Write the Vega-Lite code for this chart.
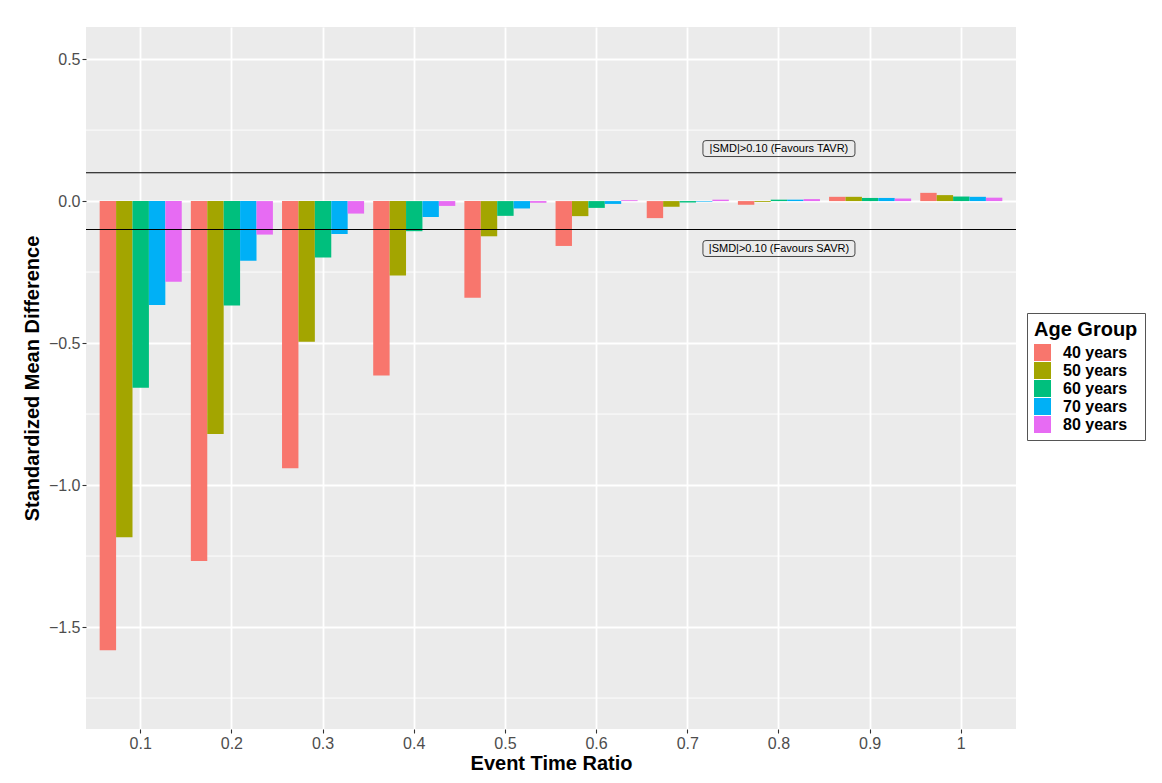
{
  "$schema": "https://vega.github.io/schema/vega-lite/v6.json",
  "width": 930,
  "height": 702,
  "autosize": {"type": "none"},
  "padding": {"left": 86, "top": 27, "right": 146, "bottom": 54},
  "background": "white",
  "config": {
    "font": "Liberation Sans",
    "view": {"fill": "#EBEBEB", "stroke": null},
    "axis": {
      "domain": false,
      "gridColor": "white",
      "gridWidth": 1.8,
      "tickColor": "#333333",
      "tickSize": 4,
      "tickWidth": 1.1,
      "labelFont": "Liberation Sans",
      "labelFontSize": 16,
      "labelColor": "#4D4D4D",
      "labelPadding": 2,
      "titleFont": "Liberation Sans",
      "titleFontSize": 20,
      "titleFontWeight": "bold",
      "titleColor": "black"
    }
  },
  "datasets": {
    "smd": [
      {"ratio": "0.1", "group": "40 years", "smd": -1.582},
      {"ratio": "0.1", "group": "50 years", "smd": -1.184},
      {"ratio": "0.1", "group": "60 years", "smd": -0.657},
      {"ratio": "0.1", "group": "70 years", "smd": -0.366},
      {"ratio": "0.1", "group": "80 years", "smd": -0.284},
      {"ratio": "0.2", "group": "40 years", "smd": -1.267},
      {"ratio": "0.2", "group": "50 years", "smd": -0.820},
      {"ratio": "0.2", "group": "60 years", "smd": -0.368},
      {"ratio": "0.2", "group": "70 years", "smd": -0.210},
      {"ratio": "0.2", "group": "80 years", "smd": -0.118},
      {"ratio": "0.3", "group": "40 years", "smd": -0.941},
      {"ratio": "0.3", "group": "50 years", "smd": -0.495},
      {"ratio": "0.3", "group": "60 years", "smd": -0.199},
      {"ratio": "0.3", "group": "70 years", "smd": -0.116},
      {"ratio": "0.3", "group": "80 years", "smd": -0.044},
      {"ratio": "0.4", "group": "40 years", "smd": -0.614},
      {"ratio": "0.4", "group": "50 years", "smd": -0.262},
      {"ratio": "0.4", "group": "60 years", "smd": -0.106},
      {"ratio": "0.4", "group": "70 years", "smd": -0.056},
      {"ratio": "0.4", "group": "80 years", "smd": -0.017},
      {"ratio": "0.5", "group": "40 years", "smd": -0.340},
      {"ratio": "0.5", "group": "50 years", "smd": -0.124},
      {"ratio": "0.5", "group": "60 years", "smd": -0.052},
      {"ratio": "0.5", "group": "70 years", "smd": -0.026},
      {"ratio": "0.5", "group": "80 years", "smd": -0.006},
      {"ratio": "0.6", "group": "40 years", "smd": -0.158},
      {"ratio": "0.6", "group": "50 years", "smd": -0.053},
      {"ratio": "0.6", "group": "60 years", "smd": -0.024},
      {"ratio": "0.6", "group": "70 years", "smd": -0.010},
      {"ratio": "0.6", "group": "80 years", "smd": 0.003},
      {"ratio": "0.7", "group": "40 years", "smd": -0.060},
      {"ratio": "0.7", "group": "50 years", "smd": -0.020},
      {"ratio": "0.7", "group": "60 years", "smd": -0.005},
      {"ratio": "0.7", "group": "70 years", "smd": -0.002},
      {"ratio": "0.7", "group": "80 years", "smd": 0.005},
      {"ratio": "0.8", "group": "40 years", "smd": -0.013},
      {"ratio": "0.8", "group": "50 years", "smd": -0.003},
      {"ratio": "0.8", "group": "60 years", "smd": 0.005},
      {"ratio": "0.8", "group": "70 years", "smd": 0.005},
      {"ratio": "0.8", "group": "80 years", "smd": 0.007},
      {"ratio": "0.9", "group": "40 years", "smd": 0.015},
      {"ratio": "0.9", "group": "50 years", "smd": 0.015},
      {"ratio": "0.9", "group": "60 years", "smd": 0.011},
      {"ratio": "0.9", "group": "70 years", "smd": 0.011},
      {"ratio": "0.9", "group": "80 years", "smd": 0.009},
      {"ratio": "1", "group": "40 years", "smd": 0.029},
      {"ratio": "1", "group": "50 years", "smd": 0.021},
      {"ratio": "1", "group": "60 years", "smd": 0.016},
      {"ratio": "1", "group": "70 years", "smd": 0.015},
      {"ratio": "1", "group": "80 years", "smd": 0.012}
    ],
    "minor": [
      {"v": -1.75}, {"v": -1.25}, {"v": -0.75}, {"v": -0.25}, {"v": 0.25}
    ],
    "thresholds": [
      {"v": 0.1}, {"v": -0.1}
    ],
    "labels": [
      {"ratio": "0.8", "y": 0.185, "text": "|SMD|>0.10 (Favours TAVR)"},
      {"ratio": "0.8", "y": -0.167, "text": "|SMD|>0.10 (Favours SAVR)"}
    ]
  },
  "layer": [
    {
      "data": {"name": "minor"},
      "mark": {"type": "rule", "color": "white", "strokeWidth": 0.9},
      "encoding": {
        "y": {"field": "v", "type": "quantitative", "scale": {"domain": [-1.859, 0.613], "nice": false, "zero": false}}
      }
    },
    {
      "data": {"name": "smd"},
      "mark": {"type": "bar"},
      "encoding": {
        "x": {
          "field": "ratio", "type": "ordinal",
          "sort": ["0.1", "0.2", "0.3", "0.4", "0.5", "0.6", "0.7", "0.8", "0.9", "1"],
          "scale": {"paddingInner": 0.1, "paddingOuter": 0.15},
          "axis": {"title": "Event Time Ratio", "labelAngle": 0, "titlePadding": 2, "grid": true}
        },
        "xOffset": {"field": "group", "type": "nominal", "scale": {"paddingInner": 0, "paddingOuter": 0}},
        "y": {
          "field": "smd", "type": "quantitative",
          "scale": {"domain": [-1.859, 0.613], "nice": false, "zero": false},
          "axis": {"title": "Standardized Mean Difference", "values": [-1.5, -1, -0.5, 0, 0.5], "format": ".1f", "titlePadding": 6}
        },
        "y2": {"datum": 0},
        "color": {
          "field": "group", "type": "nominal",
          "scale": {"domain": ["40 years", "50 years", "60 years", "70 years", "80 years"], "range": ["#F8766D", "#A3A500", "#00BF7D", "#00B0F6", "#E76BF3"]},
          "legend": {
            "title": "Age Group",
            "orient": "none",
            "legendX": 941,
            "legendY": 286,
            "strokeColor": "#555555",
            "padding": 7,
            "titleFont": "Liberation Sans",
            "titleFontSize": 20,
            "titleFontWeight": "bold",
            "titleColor": "black",
            "titlePadding": 4,
            "labelFont": "Liberation Sans",
            "labelFontSize": 16,
            "labelFontWeight": "bold",
            "labelColor": "black",
            "labelOffset": 12,
            "symbolType": "square",
            "symbolSize": 289,
            "symbolStrokeWidth": 0,
            "rowPadding": 1
          }
        }
      }
    },
    {
      "data": {"name": "thresholds"},
      "mark": {"type": "rule", "color": "black", "strokeWidth": 1.1},
      "encoding": {
        "y": {"field": "v", "type": "quantitative"}
      }
    },
    {
      "data": {"name": "labels"},
      "mark": {
        "type": "point",
        "shape": "M-0.96,-0.105 L0.96,-0.105 Q1,-0.105 1,-0.07 L1,0.07 Q1,0.105 0.96,0.105 L-0.96,0.105 Q-1,0.105 -1,0.07 L-1,-0.07 Q-1,-0.105 -0.96,-0.105 Z",
        "size": 23104,
        "filled": false,
        "stroke": "#333333",
        "strokeWidth": 0.9,
        "opacity": 1
      },
      "encoding": {
        "x": {"field": "ratio", "type": "ordinal"},
        "y": {"field": "y", "type": "quantitative"}
      }
    },
    {
      "data": {"name": "labels"},
      "mark": {"type": "text", "font": "Liberation Sans", "fontSize": 11, "color": "black", "align": "center", "baseline": "middle"},
      "encoding": {
        "x": {"field": "ratio", "type": "ordinal"},
        "y": {"field": "y", "type": "quantitative"},
        "text": {"field": "text"}
      }
    }
  ]
}
